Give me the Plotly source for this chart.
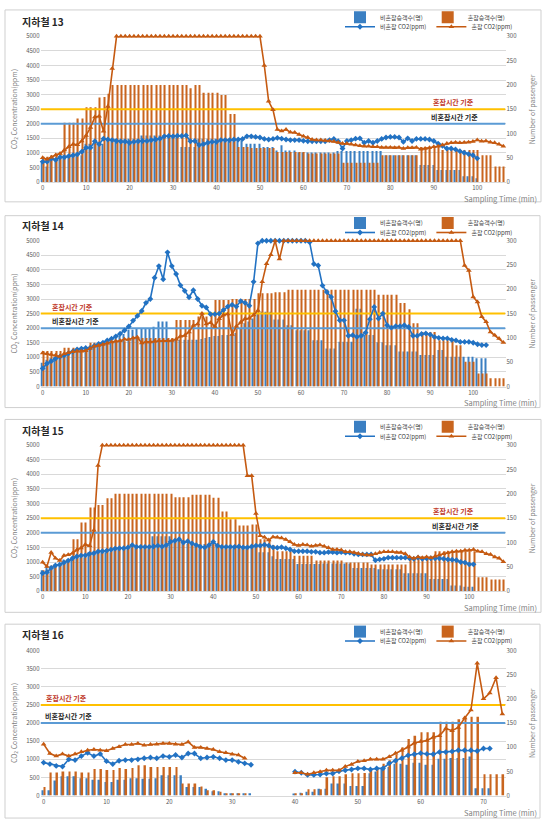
import plotly.graph_objects as go

# ---------------- data ----------------
titles = ["지하철 13", "지하철 14", "지하철 15", "지하철 16"]
n_categories = [107, 108, 109, 74]
ppm_axis_max = [5000, 5000, 5000, 4000]
passenger_axis_max = 300
x_tick_step = 10
standard_values = [2500, 2000]
standard_labels = ["혼잡시간 기준", "비혼잡시간 기준"]
series_names = ["비혼잡승객수(명)", "혼잡승객수(명)", "비혼잡 CO2(ppm)", "혼잡 CO2(ppm)"]
y_left_title = "CO<sub>2</sub> Concentration(ppm)"
y_right_title = "Number of passenger"
x_title = "Sampling Time (min)"

# --- 지하철 13 ---
p13_pass_nc = [40,32,49,49,49,55,55,55,55,55,
               79,79,79,79,79,89,89,89,89,89,
               89,89,89,96,96,96,96,96,96,96,
               96,96,72,72,72,72,89,89,89,89,
               89,86,86,86,86,86,86,79,79,79,
               79,72,72,72,65,76,65,65,65,61,
               61,61,61,61,61,61,61,61,64,64,
               64,64,64,64,64,64,64,64,64,55,
               55,55,55,55,55,55,55,35,35,35,
               35,25,25,25,25,25,25,12,12,12,
               8,None,None,None,None,None,None]
p13_pass_c = [52,52,55,59,59,122,122,122,131,131,
              154,154,154,174,175,182,200,200,200,200,
              200,200,200,200,200,200,200,200,200,200,
              200,200,200,200,193,200,200,184,184,184,
              184,179,179,140,140,72,72,72,70,70,
              70,70,70,70,62,62,62,62,62,62,
              62,59,59,59,59,59,59,59,59,40,
              40,40,40,40,40,40,40,40,55,55,
              55,55,55,55,55,55,55,72,72,72,
              72,72,66,66,66,66,66,66,66,66,
              66,55,55,55,32,32,32]
p13_co2_nc = [700,700,810,760,850,850,890,920,950,1040,
              1180,1180,1400,1300,1490,1460,1440,1410,1390,1390,
              1350,1380,1400,1410,1410,1440,1460,1490,1570,1580,
              1570,1590,1580,1600,1400,1410,1270,1300,1350,1380,
              1380,1440,1440,1440,1460,1460,1480,1570,1570,1550,
              1530,1480,1460,1480,1515,1490,1460,1440,1440,1440,
              1415,1400,1400,1400,1400,1400,1440,1480,1400,1150,
              1410,1440,1490,1500,1350,1410,1350,1410,1480,1530,
              1550,1550,1530,1380,1500,1410,1480,1480,1480,1460,
              1410,1320,1245,1150,1150,1120,1060,1005,960,920,
              815,None,None,None,None,None,None]
p13_co2_c = [830,780,850,930,980,1100,1210,1300,1280,1410,
             1600,1870,2230,2260,1740,2590,3900,5000,5000,5000,
             5000,5000,5000,5000,5000,5000,5000,5000,5000,5000,
             5000,5000,5000,5000,5000,5000,5000,5000,5000,5000,
             5000,5000,5000,5000,5000,5000,5000,5000,5000,5000,
             5000,4000,2770,2480,1800,1750,1800,1710,1700,1630,
             1570,1530,1460,1440,1440,1425,1410,1390,1360,1320,
             1320,1300,1270,1245,1230,1230,1210,1210,1190,1190,
             1190,1180,1190,1150,1180,1180,1190,1130,1150,1180,
             1210,1230,1270,1320,1345,1360,1345,1360,1370,1390,
             1440,1400,1410,1370,1345,1300,1230]

# --- 지하철 14 ---
p14_pass_nc = [49,55,58,60,62,66,68,70,74,76,
               78,80,84,86,88,92,96,100,104,108,
               117,117,120,120,120,120,123,134,134,134,
               96,96,96,96,96,96,96,98,100,102,
               104,104,106,106,108,110,120,130,134,140,
               150,154,154,154,138,138,138,126,126,116,
               116,116,116,95,95,95,78,78,78,92,
               92,92,92,160,160,106,106,106,91,91,
               85,85,85,72,72,72,72,72,65,65,
               65,65,75,75,61,61,61,61,61,61,
               61,58,58,58,None,None,None,None]
p14_pass_c = [73,73,73,73,73,80,80,80,80,80,
              80,90,90,90,90,93,93,93,93,93,
              93,100,100,100,100,100,100,100,100,100,
              100,137,137,137,137,137,144,144,144,147,
              178,178,178,178,180,180,180,180,180,180,
              192,192,192,192,194,194,194,199,199,199,
              199,199,199,199,199,199,199,199,199,199,
              199,199,199,199,199,199,199,199,189,189,
              189,189,189,172,172,159,130,130,112,112,
              112,112,95,95,95,95,85,85,51,51,
              51,27,27,27,17,17,17,17]
p14_co2_nc = [620,790,870,960,1020,1070,1140,1200,1270,1300,
              1320,1320,1400,1460,1500,1580,1640,1720,1810,1920,
              2060,2260,2420,2590,2870,3000,3730,4130,3680,4600,
              4130,3860,3470,3280,3060,3300,3000,2770,2710,2480,
              2480,2500,2620,2740,2800,2740,2930,2870,2770,3590,
              4910,5000,5000,5000,5000,5000,5000,5000,5000,5000,
              5000,5000,4950,4200,4150,3460,3240,3070,2580,2270,
              2270,1740,1760,1700,1740,1850,2310,2730,2330,2500,
              2100,2020,2070,2070,2100,2040,1740,1740,1800,1820,
              1780,1700,1670,1650,1650,1600,1580,1530,1530,1530,
              1500,1450,1420,1420,None,None,None,None]
p14_co2_c = [1150,1120,1100,1070,1030,1120,1160,1190,1210,1210,
             1230,1300,1380,1410,1440,1480,1530,1550,1570,1620,
             1610,1660,1690,1490,1530,1530,1550,1570,1570,1570,
             1580,1620,1720,1750,1870,2090,2140,2500,2140,2190,
             2060,2320,2450,2490,1780,2070,2200,2320,2340,2450,
             2610,3590,4210,4520,5000,4370,5000,5000,5000,5000,
             5000,5000,5000,5000,5000,5000,5000,5000,5000,5000,
             5000,5000,5000,5000,5000,5000,5000,5000,5000,5000,
             5000,5000,5000,5000,5000,5000,5000,5000,5000,5000,
             5000,5000,5000,5000,5000,5000,5000,5000,4150,3980,
             3070,2900,2390,2220,1870,1760,1650,1510]

# --- 지하철 15 ---
p15_pass_nc = [43,50,52,55,55,65,65,68,68,70,
               70,80,80,80,80,80,80,90,90,90,
               90,90,90,90,90,90,113,113,113,113,
               113,104,104,104,97,97,97,97,97,97,
               97,93,93,93,93,93,93,93,93,93,
               93,80,80,80,72,66,66,66,66,66,
               56,56,56,56,56,56,57,57,57,57,
               57,57,57,48,48,48,48,48,48,45,
               45,45,45,45,45,37,37,37,37,37,
               37,25,25,25,25,25,12,12,12,9,
               9,9,None,None,None,None,None,None,None]
p15_pass_c = [43,44,53,53,53,63,63,107,107,141,
              141,172,172,177,177,191,191,200,200,200,
              200,200,200,200,200,200,200,200,200,200,
              200,193,193,193,193,198,198,198,198,198,
              192,192,164,164,148,148,135,135,135,137,
              137,107,107,107,95,82,82,82,82,73,
              73,73,73,73,63,63,63,63,63,63,
              63,59,59,59,59,59,59,55,55,55,
              55,55,55,55,55,55,70,70,70,70,
              70,70,82,82,82,82,82,82,82,82,
              82,82,29,29,29,24,24,24,24]
p15_co2_nc = [620,650,800,880,910,980,1050,1130,1190,1220,
              1230,1280,1300,1360,1370,1390,1420,1460,1470,1470,
              1500,1580,1520,1520,1520,1520,1530,1560,1530,1580,
              1690,1730,1780,1670,1710,1640,1580,1520,1500,1580,
              1690,1560,1520,1520,1520,1520,1530,1500,1500,1530,
              1560,1560,1590,1560,1500,1490,1510,1470,1430,1370,
              1370,1370,1370,1350,1350,1320,1320,1340,1340,1320,
              1340,1320,1320,1280,1260,1260,1260,1260,1060,1090,
              1110,1150,1150,1150,1150,1150,1130,1110,1150,1110,
              1130,1130,1130,1130,1110,1090,1080,1060,1000,980,
              920,920,None,None,None,None,None,None,None]
p15_co2_c = [990,850,1330,1130,1050,1220,1250,1300,1410,1480,
             1600,1560,2090,4300,5000,5000,5000,5000,5000,5000,
             5000,5000,5000,5000,5000,5000,5000,5000,5000,5000,
             5000,5000,5000,5000,5000,5000,5000,5000,5000,5000,
             5000,5000,5000,5000,5000,5000,5000,5000,3950,3950,
             2660,1900,1850,1750,1860,1850,1820,1770,1690,1600,
             1570,1600,1580,1540,1570,1580,1540,1490,1430,1430,
             1410,1350,1350,1330,1290,1260,1240,1240,1280,1330,
             1350,1350,1350,1330,1330,1280,1170,1130,1170,1150,
             1170,1150,1200,1240,1280,1320,1350,1370,1370,1400,
             1400,1430,1370,1350,1280,1260,1170,1130,1010]

# --- 지하철 16 ---
p16_pass_nc = [11,11,31,40,40,40,36,36,33,33,
               28,28,33,33,36,36,35,35,36,42,
               42,42,42,18,18,18,14,9,9,5,
               5,5,5,5,None,None,None,None,None,None,
               3,6,8,8,14,14,25,25,25,20,
               20,20,46,50,56,59,66,66,64,68,
               68,64,64,76,76,78,78,78,81,15,
               15,15,None,None]
p16_pass_c = [18,48,48,50,50,50,48,48,55,55,
              53,53,57,55,57,63,63,59,59,59,
              59,59,25,25,25,19,11,11,8,5,
              5,5,5,None,None,None,None,None,None,None,
              5,5,13,13,13,38,40,40,44,46,
              46,47,53,56,66,73,85,100,117,124,
              131,131,131,153,153,153,158,163,163,163,
              44,44,44,44]
p16_co2_nc = [910,870,820,800,1000,980,1090,1180,1090,1150,
              950,870,960,980,980,1000,1030,1050,1030,1090,
              1070,1120,1050,1160,1160,1030,1050,1070,1030,980,
              980,930,890,850,None,None,None,None,None,None,
              660,630,570,570,580,610,610,670,700,720,
              750,750,720,750,750,890,960,1030,1110,1140,
              1170,1150,1140,1200,1200,1220,1250,1250,1250,1230,
              1300,1300,None,None]
p16_co2_c = [1420,1160,1090,1150,1090,1150,1210,1250,1270,1250,
             1240,1300,1350,1410,1410,1440,1390,1410,1420,1440,
             1440,1420,1410,1480,1330,1330,1300,1270,1210,1180,
             1140,1120,1030,None,None,None,None,None,None,None,
             630,630,590,630,660,700,700,700,800,860,
             940,960,1000,1000,1000,1070,1170,1250,1340,1450,
             1490,1520,1610,1650,1850,1790,1880,2140,2360,3650,
             2670,2830,3250,2250]

pass_nc_all = [p13_pass_nc, p14_pass_nc, p15_pass_nc, p16_pass_nc]
pass_c_all = [p13_pass_c, p14_pass_c, p15_pass_c, p16_pass_c]
co2_nc_all = [p13_co2_nc, p14_co2_nc, p15_co2_nc, p16_co2_nc]
co2_c_all = [p13_co2_c, p14_co2_c, p15_co2_c, p16_co2_c]

# ---------------- style / layout (pixels) ----------------
W, H = 550, 827
FONT = "Noto Sans CJK KR, Noto Sans, sans-serif"
BLUE_BAR = "#3A7FC2"
ORANGE_BAR = "#C9651E"
BLUE_LINE = "#2272C3"
ORANGE_LINE = "#C55A11"
STD_COLORS = ["#FFC000", "#5B9BD5"]
STD_LABEL_COLORS = ["#C0392B", "#262626"]
GRID = "#D9D9D9"
TICK = "#595959"
AX_TITLE = "#7F7F7F"

PLOT_L, PLOT_R = 40.5, 505.5
PLOT_TOP = [31.7, 238.3, 445.0, 652.7]
PLOT_BOT = [179.0, 385.7, 592.7, 799.3]
BOXES = [(5, 5, 541, 199), (5, 213, 540, 407), (5, 419, 541, 614), (5, 626, 540, 822)]
TITLE_Y = [16.7, 223.3, 430.0, 636.7]
STD_LABEL_X = [[453, 454], [72, 75], [453, 455], [66, 68]]
LEG_X = 340


def fx(px):
    return px / W


def fy(py):
    return 1 - py / H


fig = go.Figure()
layout = dict(
    width=W, height=H, margin=dict(l=0, r=0, t=0, b=0),
    paper_bgcolor="white", plot_bgcolor="white",
    barmode="group", bargap=0.45, bargroupgap=0,
    font=dict(family=FONT, size=7, color=TICK),
    showlegend=True,
)
shapes = []
annotations = []

for k in range(4):
    idx = k + 1
    n = n_categories[k]
    cats = list(range(n))
    xa = "x" if idx == 1 else f"x{idx}"
    xkey = "xaxis" if idx == 1 else f"xaxis{idx}"
    yb_n, yp_n = 2 * idx - 1, 2 * idx
    yb = "y" if yb_n == 1 else f"y{yb_n}"
    ybkey = "yaxis" if yb_n == 1 else f"yaxis{yb_n}"
    yp = f"y{yp_n}"
    ypkey = f"yaxis{yp_n}"
    leg_a = "legend" if idx == 1 else f"legend{2 * idx - 1}"
    leg_b = f"legend{2 * idx}"

    # bars (passengers) on base axis
    fig.add_trace(go.Bar(x=cats, y=pass_nc_all[k], name=series_names[0],
                         marker=dict(color=BLUE_BAR, line=dict(width=0)),
                         xaxis=xa, yaxis=yb, legend=leg_a, offsetgroup="nc"))
    fig.add_trace(go.Bar(x=cats, y=pass_c_all[k], name=series_names[1],
                         marker=dict(color=ORANGE_BAR, line=dict(width=0)),
                         xaxis=xa, yaxis=yb, legend=leg_a, offsetgroup="c"))
    # standard lines
    for s in range(2):
        fig.add_trace(go.Scatter(x=[-0.5, n - 0.5], y=[standard_values[s]] * 2,
                                 mode="lines", line=dict(color=STD_COLORS[s], width=2),
                                 xaxis=xa, yaxis=yp, showlegend=False, hoverinfo="skip"))
    # CO2 lines
    fig.add_trace(go.Scatter(x=cats, y=co2_nc_all[k], name=series_names[2],
                             mode="lines+markers",
                             line=dict(color=BLUE_LINE, width=1.6),
                             marker=dict(symbol="diamond", size=4.5, color=BLUE_LINE),
                             xaxis=xa, yaxis=yp, legend=leg_b, connectgaps=False,
                             cliponaxis=False))
    fig.add_trace(go.Scatter(x=cats, y=co2_c_all[k], name=series_names[3],
                             mode="lines+markers",
                             line=dict(color=ORANGE_LINE, width=1.6),
                             marker=dict(symbol="triangle-up", size=5, color=ORANGE_LINE),
                             xaxis=xa, yaxis=yp, legend=leg_b, connectgaps=False,
                             cliponaxis=False))

    layout[xkey] = dict(domain=[fx(PLOT_L), fx(PLOT_R)], anchor=yb,
                        range=[-0.5, n - 0.5], tickmode="array",
                        tickvals=list(range(0, n, x_tick_step)),
                        showgrid=False, zeroline=False, showline=True,
                        linecolor=GRID, ticks="", tickfont=dict(size=6, color=TICK))
    layout[ybkey] = dict(domain=[fy(PLOT_BOT[k]), fy(PLOT_TOP[k])], anchor=xa,
                         side="right", range=[0, passenger_axis_max],
                         tickmode="linear", tick0=0, dtick=50,
                         showgrid=False, zeroline=False, showline=False, ticks="",
                         tickfont=dict(size=6, color=TICK))
    layout[ypkey] = dict(overlaying=yb, anchor=xa, side="left",
                         range=[0, ppm_axis_max[k]], tickmode="linear", tick0=0, dtick=500,
                         showgrid=True, gridcolor=GRID, gridwidth=1,
                         zeroline=False, showline=False, ticks="", tickformat="d",
                         tickfont=dict(size=6, color=TICK))

    box_top = BOXES[k][1]
    layout[leg_a] = dict(orientation="h", x=fx(LEG_X), y=fy(box_top + 7.5),
                         xanchor="left", yanchor="middle",
                         font=dict(size=6, color="#404040", family=FONT),
                         bgcolor="rgba(0,0,0,0)", borderwidth=0, itemwidth=30,
                         tracegroupgap=0)
    layout[leg_b] = dict(orientation="h", x=fx(LEG_X), y=fy(box_top + 17),
                         xanchor="left", yanchor="middle",
                         font=dict(size=6, color="#404040", family=FONT),
                         bgcolor="rgba(0,0,0,0)", borderwidth=0, itemwidth=30,
                         tracegroupgap=0)

    x0, y0, x1, y1 = BOXES[k]
    shapes.append(dict(type="rect", xref="paper", yref="paper",
                       x0=fx(x0), x1=fx(x1), y0=fy(y1), y1=fy(y0),
                       line=dict(color="#CFCFCF", width=1), fillcolor="rgba(0,0,0,0)",
                       layer="below"))

    mid = (PLOT_TOP[k] + PLOT_BOT[k]) / 2
    annotations += [
        dict(text=f"<b>{titles[k]}</b>", x=fx(20), y=fy(TITLE_Y[k]), xref="paper", yref="paper",
             xanchor="left", yanchor="middle", showarrow=False,
             font=dict(size=10, color="#262626", family=FONT)),
        dict(text=y_left_title, x=fx(14), y=fy(mid), xref="paper", yref="paper",
             xanchor="center", yanchor="middle", textangle=-90, showarrow=False,
             font=dict(size=7, color=AX_TITLE, family=FONT)),
        dict(text=y_right_title, x=fx(532), y=fy(mid), xref="paper", yref="paper",
             xanchor="center", yanchor="middle", textangle=-90, showarrow=False,
             font=dict(size=7, color=AX_TITLE, family=FONT)),
        dict(text=x_title, x=fx(539), y=fy(PLOT_BOT[k] + 16.6), xref="paper", yref="paper",
             xanchor="right", yanchor="middle", showarrow=False,
             font=dict(size=7.5, color=AX_TITLE, family=FONT)),
    ]
    for s in range(2):
        annotations.append(dict(text=f"<b>{standard_labels[s]}</b>",
                                x=fx(STD_LABEL_X[k][s]), xref="paper",
                                y=standard_values[s], yref=yp,
                                xanchor="center", yanchor="bottom", yshift=0,
                                showarrow=False,
                                font=dict(size=7, color=STD_LABEL_COLORS[s], family=FONT)))

layout["shapes"] = shapes
layout["annotations"] = annotations
fig.update_layout(**layout)
fig.write_html(
    "out.html",
    config={"displayModeBar": False},
    post_script="document.body.style.margin='0';document.body.style.padding='0';"
                "document.documentElement.style.overflow='hidden';",
)
